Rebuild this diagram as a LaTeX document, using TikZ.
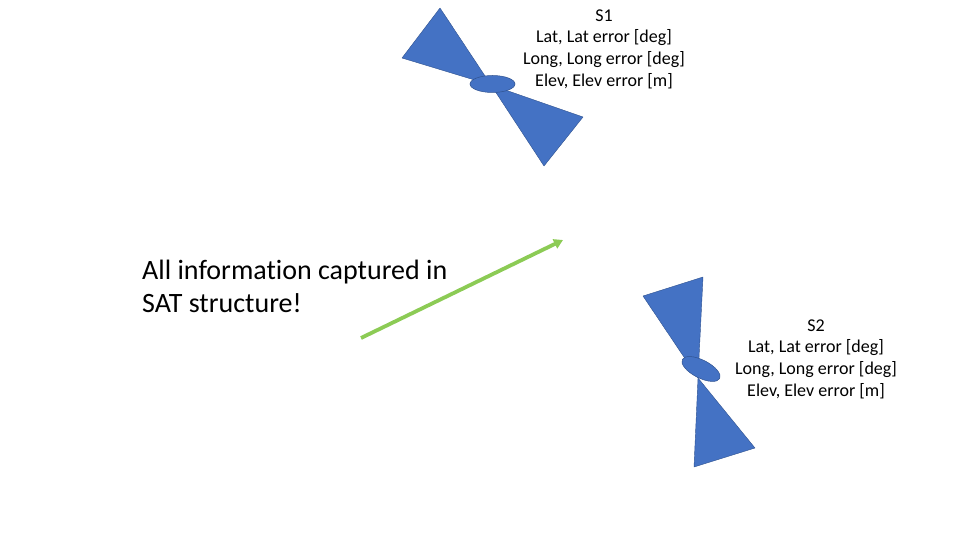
\documentclass[tikz,border=0pt]{standalone}
\usepackage{fontspec}
\setmainfont[Ligatures=NoCommon]{Carlito}
\usepackage{xcolor}
\usetikzlibrary{arrows.meta,shapes.geometric}
\definecolor{satblue}{HTML}{4472C4}
\definecolor{satedge}{HTML}{2F528F}
\definecolor{satgreen}{HTML}{8CCB55}
\tikzset{
	sat wing/.style={draw=satedge,fill=satblue,line width=.4pt,line join=round},
	sat body/.style={ellipse,draw=satedge,fill=satblue,line width=.5pt,inner sep=0pt,
		minimum width=45pt,minimum height=17pt},
	sat info/.style={align=center,inner sep=0pt,
		font=\fontsize{18}{21.6}\selectfont},
	sat note/.style={align=left,inner sep=0pt,anchor=north west,
		font=\fontsize{28}{33}\selectfont},
	link/.style={draw=satgreen,line width=3.8pt,-{Triangle[length=9pt,width=10pt]},shorten >=0pt}
}
\begin{document}
\begin{tikzpicture}[x=1pt,y=-1pt]
	\useasboundingbox (0,0) rectangle (960,540);
	\coordinate (S1_a) at (491,85);
	\coordinate (S2_a) at (698,378);
	\coordinate (A_from) at (361,338);
	\coordinate (A_to) at (563,240);
	% first satellite
	\draw[sat wing] (S1_a) -- (402,58) -- (440,8) -- cycle;
	\draw[sat wing] (S1_a) -- (583,117) -- (544,166) -- cycle;
	\node[sat body] (S1) at (492.5,84) {};
	% second satellite
	\draw[sat wing] (S2_a) -- (643,296) -- (703,277) -- cycle;
	\draw[sat wing] (S2_a) -- (755,448) -- (694,467) -- cycle;
	\node[sat body,minimum width=42pt,minimum height=18pt,rotate=-27] (S2) at (701,369) {};
	\node[sat info] (S1_info) at (604,49) {S1\\Lat, Lat error [deg]\\Long, Long error [deg]\\Elev, Elev error [m]};
	\node[sat info] (S2_info) at (816,359) {S2\\Lat, Lat error [deg]\\Long, Long error [deg]\\Elev, Elev error [m]};
	\node[sat note] (note) at (142,260) {All information captured in\\SAT structure!};
	\draw[link] (A_from) -- (A_to);
\end{tikzpicture}
\end{document}
